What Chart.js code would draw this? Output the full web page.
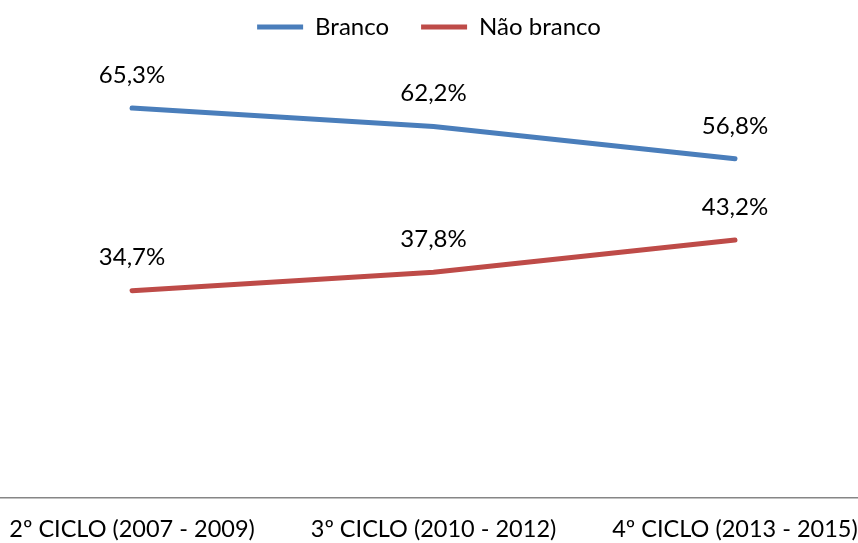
<!DOCTYPE html>
<html>
<head>
<meta charset="utf-8">
<script src="https://cdn.jsdelivr.net/npm/chart.js@4"></script>
<style>
  html, body { margin: 0; padding: 0; background: #fff; }
  #wrap { width: 858px; height: 543px; }
</style>
</head>
<body>
<div id="wrap"><canvas id="grafico"></canvas></div>
<script>
const categorias = ["2º CICLO (2007 - 2009)", "3º CICLO (2010 - 2012)", "4º CICLO (2013 - 2015)"];
const branco = [65.3, 62.2, 56.8];
const naoBranco = [34.7, 37.8, 43.2];
const series = ["Branco", "Não branco"];
const cores = ["#4A7EBB", "#BE4B48"];

const fonte = "Lato, 'Open Sans', sans-serif";

// rótulos de dados acima de cada ponto
const rotulos = {
  id: "rotulos",
  afterDatasetsDraw(chart) {
    const ctx = chart.ctx;
    ctx.save();
    ctx.font = "24px " + fonte;
    ctx.fillStyle = "#000";
    ctx.textAlign = "center";
    ctx.textBaseline = "middle";
    chart.data.datasets.forEach((ds, i) => {
      chart.getDatasetMeta(i).data.forEach((pt, j) => {
        const txt = ds.data[j].y.toFixed(1).replace(".", ",") + "%";
        ctx.fillText(txt, pt.x, pt.y - 33);
      });
    });
    ctx.restore();
  },
};

function serie(valores) {
  return valores.map((v, i) => ({ x: i, y: v }));
}

new Chart(document.getElementById("grafico").getContext("2d"), {
  type: "line",
  data: {
    datasets: [
      {
        label: series[0],
        data: serie(branco),
        borderColor: cores[0],
        backgroundColor: cores[0],
        borderWidth: 5,
        borderCapStyle: "round",
        pointRadius: 0,
        tension: 0,
      },
      {
        label: series[1],
        data: serie(naoBranco),
        borderColor: cores[1],
        backgroundColor: cores[1],
        borderWidth: 5,
        borderCapStyle: "round",
        pointRadius: 0,
        tension: 0,
      },
    ],
  },
  options: {
    responsive: true,
    maintainAspectRatio: false,
    animation: false,
    layout: { padding: { top: -17, left: 0, right: 0, bottom: -19 } },
    plugins: {
      tooltip: { enabled: false },
      legend: {
        position: "top",
        labels: {
          usePointStyle: true,
          pointStyle: "line",
          pointStyleWidth: 46,
          padding: 32,
          color: "#000",
          font: { family: fonte, size: 24 },
        },
      },
    },
    scales: {
      x: {
        type: "linear",
        min: -0.438,
        max: 2.408,
        afterBuildTicks: (scale) => {
          scale.ticks = categorias.map((c, i) => ({ value: i }));
        },
        afterFit: (scale) => {
          scale.paddingLeft = 0;
          scale.paddingRight = 0;
        },
        ticks: {
          callback: (v) => categorias[v],
          color: "#000",
          padding: 18,
          maxRotation: 0,
          autoSkip: false,
          font: { family: fonte, size: 23.5 },
        },
        grid: { display: false, drawTicks: false },
        border: { display: true, color: "#868686", width: 1.5 },
      },
      y: {
        display: false,
        min: 0,
        max: 75.2,
      },
    },
  },
  plugins: [rotulos],
});
</script>
</body>
</html>
